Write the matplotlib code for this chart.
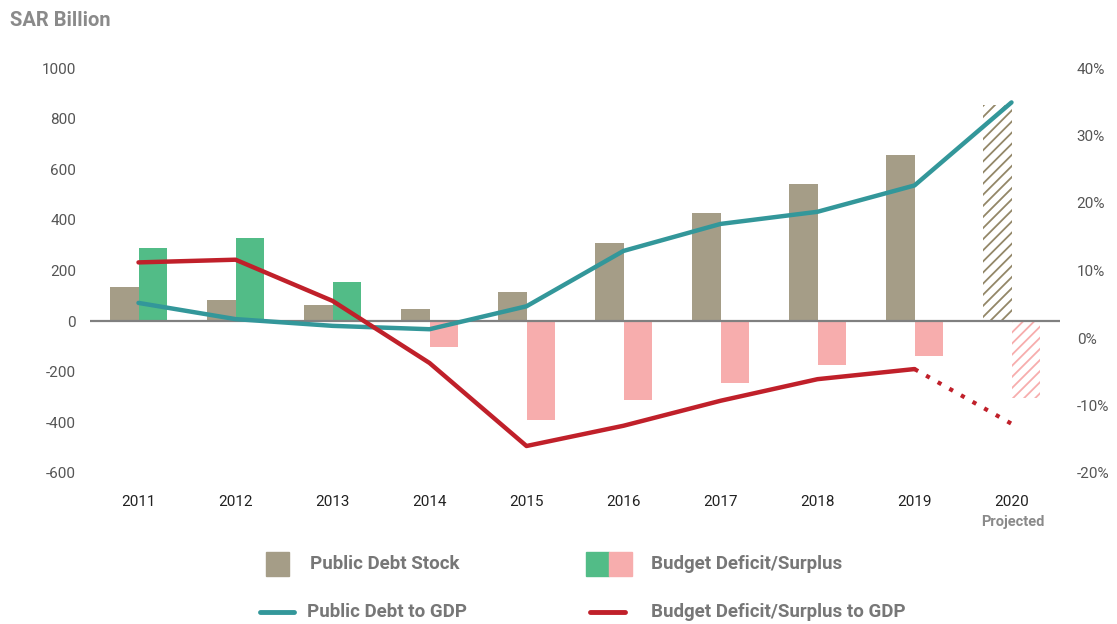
import matplotlib.pyplot as plt
from matplotlib.patches import Rectangle
from matplotlib.lines import Line2D

plt.rcParams['font.family'] = ['Roboto', 'DejaVu Sans']
plt.rcParams['hatch.linewidth'] = 1.3
plt.rcParams['axes.unicode_minus'] = False

# data
years = ['2011', '2012', '2013', '2014', '2015', '2016', '2017', '2018', '2019', '2020']
debt_stock = [133, 85, 62, 46, 117, 310, 428, 543, 657, 854]          # SAR bn
budget_balance = [290, 330, 156, -103, -390, -311, -244, -173, -138, -303]  # SAR bn
debt_to_gdp = [5.2, 2.8, 1.8, 1.3, 4.7, 12.9, 16.9, 18.7, 22.6, 34.9]   # %
balance_to_gdp = [11.2, 11.6, 5.5, -3.7, -16.0, -13.0, -9.3, -6.1, -4.6, -12.7]  # %

debt_color = '#a59d87'
green = '#52bc87'
pink = '#f7adad'
teal = '#33979a'
red = '#c0202a'
gray_txt = '#777777'

fig = plt.figure(figsize=(11.17, 6.24), dpi=100)
ax = fig.add_axes([90 / 1117, 151 / 624, 970 / 1117, 405 / 624])
ax2 = ax.twinx()

x = list(range(len(years)))
w = 0.29
n_act = len(years) - 1  # last year is projected

# bars - actual years
ax.bar([i - w / 2 for i in x[:n_act]], debt_stock[:n_act], width=w, color=debt_color, zorder=2)
bal_colors = [green if v > 0 else pink for v in budget_balance[:n_act]]
ax.bar([i + w / 2 for i in x[:n_act]], budget_balance[:n_act], width=w, color=bal_colors, zorder=2)

# projected 2020 bars, hatched
ax.bar(x[-1] - w / 2, debt_stock[-1], width=w, color='none', edgecolor='#938768',
       hatch='///', linewidth=0, zorder=2)
ax.bar(x[-1] + w / 2, budget_balance[-1], width=w, color='none', edgecolor=pink,
       hatch='///', linewidth=0, zorder=2)

ax.axhline(0, color='#808080', linewidth=1.6, zorder=3)

ax.set_xlim(-0.5, 9.5)
ax.set_ylim(-600, 1000)
ax.set_yticks(range(-600, 1001, 200))
ax2.set_ylim(-20, 40)
ax2.set_yticks(range(-20, 41, 10))
ax2.set_yticklabels([f'{t}%' for t in range(-20, 41, 10)])

# lines on right axis
ax2.plot(x, debt_to_gdp, color=teal, linewidth=3.2, solid_capstyle='round', zorder=4)
ax2.plot(x[:n_act], balance_to_gdp[:n_act], color=red, linewidth=3.2,
         solid_capstyle='round', zorder=4)
ax2.plot(x[n_act - 1:], balance_to_gdp[n_act - 1:], color=red, linewidth=3,
         linestyle=(0, (1, 2.2)), zorder=4)

for a in (ax, ax2):
    for s in a.spines.values():
        s.set_visible(False)
    a.tick_params(length=0, labelsize=11, labelcolor='#555555')

ax.tick_params(axis='y', pad=10)
ax2.tick_params(axis='y', pad=12)
ax.set_xticks(x)
ax.set_xticklabels(years)
ax.tick_params(axis='x', pad=16, labelcolor='#222222', labelsize=11)

fig.text(1013 / 1117, 1 - 522 / 624, 'Projected', ha='center', va='center',
         fontsize=10.5, fontweight='bold', color='#8a8a8a')
fig.text(10 / 1117, 1 - 20 / 624, 'SAR Billion', ha='left', va='center',
         fontsize=14.5, fontweight='bold', color='#8a8a8a')

# legend drawn by hand to match the two-row layout
def px(xp, yp):
    return xp / 1117, 1 - yp / 624

fig.add_artist(Rectangle(px(266, 576), 23 / 1117, 24 / 624, color=debt_color, transform=fig.transFigure))
fig.add_artist(Rectangle(px(586, 576), 23 / 1117, 24 / 624, color=green, transform=fig.transFigure))
fig.add_artist(Rectangle(px(609, 576), 23 / 1117, 24 / 624, color=pink, transform=fig.transFigure))
fig.add_artist(Line2D([260 / 1117, 294 / 1117], [1 - 612 / 624] * 2, color=teal, linewidth=3.5,
                      solid_capstyle='round', transform=fig.transFigure))
fig.add_artist(Line2D([590 / 1117, 625 / 1117], [1 - 612 / 624] * 2, color=red, linewidth=3.5,
                      solid_capstyle='round', transform=fig.transFigure))

leg_items = [(310, 564, 'Public Debt Stock'), (651, 564, 'Budget Deficit/Surplus'),
             (307, 612, 'Public Debt to GDP'), (651, 612, 'Budget Deficit/Surplus to GDP')]
for xp, yp, label in leg_items:
    fig.text(*px(xp, yp), label, ha='left', va='center', fontsize=13.5,
             fontweight='bold', color=gray_txt)

fig.savefig('out.png', dpi=100)
